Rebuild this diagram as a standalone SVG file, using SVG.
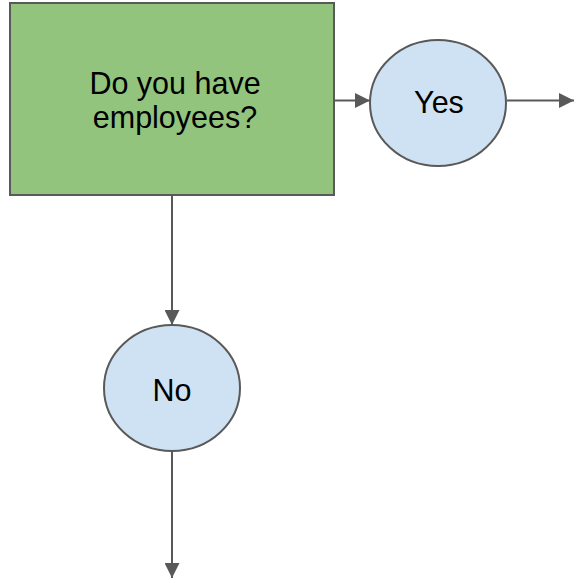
<svg xmlns="http://www.w3.org/2000/svg" width="574" height="579" viewBox="0 0 574 579">
<style>
.n{stroke:#595959;stroke-width:2}
.t{font-family:"Liberation Sans",Arial,sans-serif;font-size:30.5px;fill:#000;text-anchor:middle}
.c{stroke:#595959;stroke-width:2;fill:none}
</style>
<defs>
<marker id="a" markerWidth="15" markerHeight="15" refX="15" refY="7.5" orient="auto" markerUnits="userSpaceOnUse">
<path d="M0,0L15,7.5L0,15z" fill="#595959"/>
</marker>
</defs>
<g id="connectors">
<line class="c" x1="334" y1="100.5" x2="370" y2="100.5" marker-end="url(#a)"/>
<line class="c" x1="507" y1="100.5" x2="574" y2="100.5" marker-end="url(#a)"/>
<line class="c" x1="172" y1="195" x2="172" y2="325" marker-end="url(#a)"/>
<line class="c" x1="172" y1="452" x2="172" y2="578" marker-end="url(#a)"/>
</g>
<g id="question">
<rect class="n" x="10" y="3" width="324" height="192" fill="#93c47d"/>
<text class="t" x="175" y="94">Do you have</text>
<text class="t" x="175" y="128">employees?</text>
</g>
<g id="yes">
<ellipse class="n" cx="438" cy="103" rx="68" ry="63" fill="#cfe2f3"/>
<text class="t" x="439" y="113">Yes</text>
</g>
<g id="no">
<ellipse class="n" cx="172" cy="388" rx="68" ry="63" fill="#cfe2f3"/>
<text class="t" x="172" y="401">No</text>
</g>
</svg>
